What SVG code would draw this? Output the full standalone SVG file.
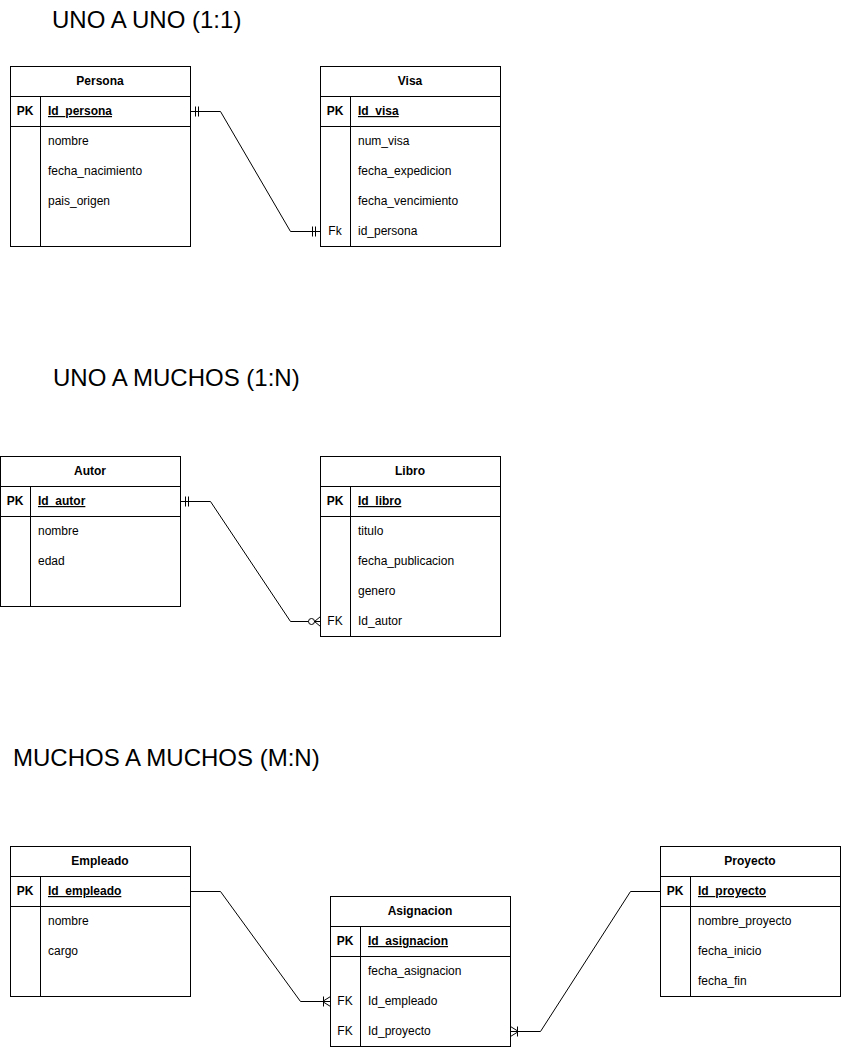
<svg xmlns="http://www.w3.org/2000/svg" width="842" height="1048" viewBox="0 0 842 1048">
<style>
text{font-family:"Liberation Sans",Arial,sans-serif;fill:#000}
.t{font-size:24px}
.h{font-size:12px;font-weight:bold;text-anchor:middle}
.k{font-size:12px;font-weight:bold;text-anchor:middle}
.kn{font-size:12px;text-anchor:middle}
.f{font-size:12px}
.pk{font-size:12px;font-weight:bold;text-decoration:underline}
.b{fill:#fff;stroke:#000;stroke-width:1}
.l{fill:none;stroke:#000;stroke-width:1}
</style>
<rect width="842" height="1048" fill="#fff"/>
<text class="t" x="52" y="28">UNO A UNO (1:1)</text>
<text class="t" x="53" y="386">UNO A MUCHOS (1:N)</text>
<text class="t" x="13" y="766">MUCHOS A MUCHOS (M:N)</text>

<g id="persona">
<rect class="b" x="10.5" y="66.5" width="180" height="180"/>
<path class="l" d="M10.5 96.5H190.5M10.5 126.5H190.5M40.5 96.5V246.5"/>
<text class="h" x="100" y="85">Persona</text>
<text class="k" x="25" y="115">PK</text>
<text class="pk" x="48" y="115">Id_persona</text>
<text class="f" x="48" y="145">nombre</text>
<text class="f" x="48" y="175">fecha_nacimiento</text>
<text class="f" x="48" y="205">pais_origen</text>
</g>

<g id="visa">
<rect class="b" x="320.5" y="66.5" width="180" height="180"/>
<path class="l" d="M320.5 96.5H500.5M320.5 126.5H500.5M350.5 96.5V246.5"/>
<text class="h" x="410" y="85">Visa</text>
<text class="k" x="335" y="115">PK</text>
<text class="pk" x="358" y="115">Id_visa</text>
<text class="f" x="358" y="145">num_visa</text>
<text class="f" x="358" y="175">fecha_expedicion</text>
<text class="f" x="358" y="205">fecha_vencimiento</text>
<text class="kn" x="335" y="235">Fk</text>
<text class="f" x="358" y="235">id_persona</text>
</g>

<g id="autor">
<rect class="b" x="0.5" y="456.5" width="180" height="150"/>
<path class="l" d="M0.5 486.5H180.5M0.5 516.5H180.5M30.5 486.5V606.5"/>
<text class="h" x="90" y="475">Autor</text>
<text class="k" x="15" y="505">PK</text>
<text class="pk" x="38" y="505">Id_autor</text>
<text class="f" x="38" y="535">nombre</text>
<text class="f" x="38" y="565">edad</text>
</g>

<g id="libro">
<rect class="b" x="320.5" y="456.5" width="180" height="180"/>
<path class="l" d="M320.5 486.5H500.5M320.5 516.5H500.5M350.5 486.5V636.5"/>
<text class="h" x="410" y="475">Libro</text>
<text class="k" x="335" y="505">PK</text>
<text class="pk" x="358" y="505">Id_libro</text>
<text class="f" x="358" y="535">titulo</text>
<text class="f" x="358" y="565">fecha_publicacion</text>
<text class="f" x="358" y="595">genero</text>
<text class="kn" x="335" y="625">FK</text>
<text class="f" x="358" y="625">Id_autor</text>
</g>

<g id="empleado">
<rect class="b" x="10.5" y="846.5" width="180" height="150"/>
<path class="l" d="M10.5 876.5H190.5M10.5 906.5H190.5M40.5 876.5V996.5"/>
<text class="h" x="100" y="865">Empleado</text>
<text class="k" x="25" y="895">PK</text>
<text class="pk" x="48" y="895">Id_empleado</text>
<text class="f" x="48" y="925">nombre</text>
<text class="f" x="48" y="955">cargo</text>
</g>

<g id="proyecto">
<rect class="b" x="660.5" y="846.5" width="180" height="150"/>
<path class="l" d="M660.5 876.5H840.5M660.5 906.5H840.5M690.5 876.5V996.5"/>
<text class="h" x="750" y="865">Proyecto</text>
<text class="k" x="675" y="895">PK</text>
<text class="pk" x="698" y="895">Id_proyecto</text>
<text class="f" x="698" y="925">nombre_proyecto</text>
<text class="f" x="698" y="955">fecha_inicio</text>
<text class="f" x="698" y="985">fecha_fin</text>
</g>

<g id="asignacion">
<rect class="b" x="330.5" y="896.5" width="180" height="150"/>
<path class="l" d="M330.5 926.5H510.5M330.5 956.5H510.5M360.5 926.5V1046.5"/>
<text class="h" x="420" y="915">Asignacion</text>
<text class="k" x="345" y="945">PK</text>
<text class="pk" x="368" y="945">Id_asignacion</text>
<text class="f" x="368" y="975">fecha_asignacion</text>
<text class="kn" x="345" y="1005">FK</text>
<text class="f" x="368" y="1005">Id_empleado</text>
<text class="kn" x="345" y="1035">FK</text>
<text class="f" x="368" y="1035">Id_proyecto</text>
</g>

<g id="connectors">
<path class="l" d="M190.5 111.5H220.5L290.5 231.5H320.5"/>
<path class="l" d="M195.5 106.5V116.5M198.5 106.5V116.5"/>
<path class="l" d="M312.5 226.5V236.5M315.5 226.5V236.5"/>

<path class="l" d="M180.5 501.5H210.5L290.5 621.5H308.5"/>
<path class="l" d="M185.5 496.5V506.5M188.5 496.5V506.5"/>
<circle class="l" cx="311.5" cy="621.5" r="3"/>
<path class="l" d="M314.5 621.5H320.5M320.5 616.5L314.5 621.5L320.5 626.5"/>

<path class="l" d="M190.5 891.5H220.5L300.5 1001.5H330.5"/>
<path class="l" d="M323.5 996.5V1006.5M330.5 996.5L322.5 1001.5L330.5 1006.5"/>

<path class="l" d="M510.5 1031.5H540.5L630.5 891.5H660.5"/>
<path class="l" d="M517.5 1026.5V1036.5M510.5 1026.5L518.5 1031.5L510.5 1036.5"/>
</g>
</svg>
